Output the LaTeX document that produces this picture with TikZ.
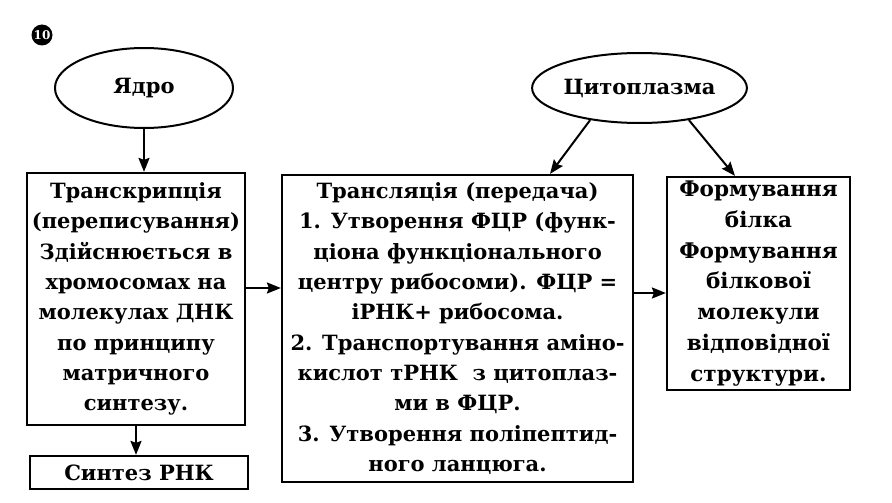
\documentclass[tikz,border=0pt]{standalone}
\usepackage{fontspec}
\setmainfont{DejaVu Serif}
\usetikzlibrary{arrows.meta,shapes.geometric}
\begin{document}
\begin{tikzpicture}[x=1pt,y=-1pt,
  boxst/.style={draw,line width=2.2pt,rectangle,inner sep=0pt,align=center,
     font=\bfseries\fontsize{21}{30.3}\selectfont},
  ellst/.style={draw,line width=2pt,ellipse,inner sep=0pt,
     font=\bfseries\fontsize{21}{25}\selectfont},
  arr/.style={line width=2pt,-{Stealth[length=14pt,width=11pt,inset=2pt]}}]
\useasboundingbox (0,0) rectangle (892,503);
\fill[white] (0,0) rectangle (892,503);
% number badge
\node[circle,fill=black,minimum size=21pt,inner sep=0pt,text=white,
  font=\bfseries\fontsize{12}{12}\selectfont] (num) at (42,35) {10};
% ellipses
\node[ellst,minimum width=178pt,minimum height=80pt] (yadro) at (144,88) {Ядро};
\node[ellst,minimum width=205pt,minimum height=70pt] (cyto) at (639.5,88) {Цитоплазма};
% boxes
\node[boxst,minimum width=218pt,minimum height=252pt] (trans) at (136,299)
 {Транскрипція\\(переписування)\\Здійснюється в\\хромосомах на\\молекулах ДНК\\по принципу\\матричного\\синтезу.};
\node[boxst,minimum width=218pt,minimum height=33pt,font=\bfseries\fontsize{21}{25}\selectfont] (synth) at (139,472.5) {Синтез РНК};
\node[boxst,minimum width=351pt,minimum height=307pt] (transl) at (457.5,328.5)
 {Трансляція (передача)\\1. Утворення ФЦР (функ-\\ціона функціонального\\центру рибосоми). ФЦР =\\іРНК+ рибосома.\\2. Транспортування аміно-\\кислот тРНК \ з цитоплаз-\\ми в ФЦР.\\3. Утворення поліпептид-\\ного ланцюга.};
\node[boxst,minimum width=183pt,minimum height=213pt,font=\bfseries\fontsize{21.5}{30.8}\selectfont] (form) at (758.5,283.5)
 {Формування\\білка\\Формування\\білкової\\молекули\\відповідної\\структури.};
% helper coordinates
\coordinate (a1) at (0,288);
\coordinate (a2) at (0,293);
\coordinate (c1) at (550,0);
\coordinate (c2) at (735,0);
% connectors
\draw[arr] (yadro.south) -- (yadro.south |- trans.north);
\draw[arr] (trans.south) -- (trans.south |- synth.north);
\draw[arr] (trans.east |- a1) -- (transl.west |- a1);
\draw[arr] (transl.east |- a2) -- (form.west |- a2);
\draw[arr] (cyto.-147) -- (transl.north -| c1);
\draw[arr] (cyto.-33) -- (form.north -| c2);
\end{tikzpicture}
\end{document}
